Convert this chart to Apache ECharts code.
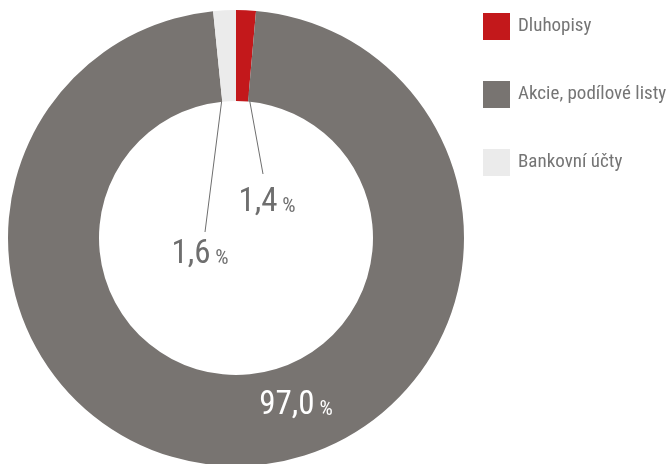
<!DOCTYPE html>
<html><head><meta charset="utf-8">
<script src="https://cdn.jsdelivr.net/npm/echarts@6/dist/echarts.min.js"></script>
<style>html,body{margin:0;padding:0;background:#fff}#c{width:666px;height:464px}</style>
</head><body><div id="c"></div>
<script>
const categories = ['Dluhopisy', 'Akcie, podílové listy', 'Bankovní účty'];
const values = [1.4, 97.0, 1.6];
const valueLabels = ['1,4', '97,0', '1,6'];
const colors = ['#c3181b', '#787471', '#ebebeb'];
const FONT = '"Liberation Sans Narrow", "Roboto Condensed", "DejaVu Sans Condensed", sans-serif';

const chart = echarts.init(document.getElementById('c'));
// label placements (layout only)
const labelPos = [
  {x: 267, y: 203, line: [[243, 64], [263, 174]]},
  {x: 296, y: 406, line: null},
  {x: 200, y: 255, line: [[227, 59], [205, 232]]}
];
chart.setOption({
  animation: false,
  legend: {
    orient: 'vertical', left: 478, top: 8,
    icon: 'rect', itemWidth: 27, itemHeight: 27, itemGap: 41,
    textStyle: {fontFamily: FONT, fontSize: 19, color: '#757575', padding: [0, 0, 0, 3]},
    data: categories
  },
  series: [{
    type: 'pie',
    center: [236, 238],
    radius: [137, 228],
    startAngle: 90,
    clockwise: true,
    avoidLabelOverlap: false,
    data: categories.map((n, i) => ({
      name: n, value: values[i],
      itemStyle: {color: colors[i]},
      label: {
        show: true,
        formatter: '{a|' + valueLabels[i] + '}{b| %}',
        rich: {
          a: {fontFamily: FONT, fontSize: 33, color: i === 1 ? '#ffffff' : '#6e6e6e'},
          b: {fontFamily: FONT, fontSize: 21, color: i === 1 ? '#ffffff' : '#6e6e6e', padding: [7, 0, 0, 0]}
        }
      },
      labelLine: {show: i !== 1, length: 10, length2: 10, lineStyle: {color: '#6e6e6e', width: 1}}
    })),
    label: {position: 'outside'},
    labelLayout: function (p) {
      const lp = labelPos[p.dataIndex];
      const r = {x: lp.x, y: lp.y, align: 'center', verticalAlign: 'middle'};
      if (lp.line) r.labelLinePoints = [lp.line[0], lp.line[1], lp.line[1]];
      return r;
    }
  }]
});
</script></body></html>
